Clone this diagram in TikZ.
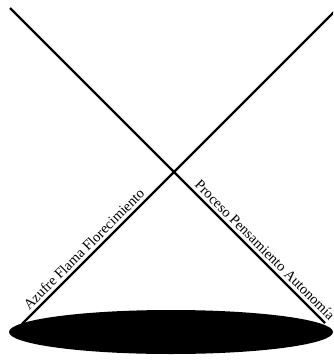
\documentclass[tikz,border=0pt]{standalone}
\usepackage{fontspec}
\setmainfont{Liberation Serif}
\begin{document}
\begin{tikzpicture}[x=1pt,y=-1pt,
  edge/.style={line width=2.2pt},
  lbl/.style={sloped,above,inner sep=4pt,font=\fontsize{14.4}{16}\selectfont}]
\useasboundingbox (0,0) rectangle (333,364);
\clip (0,0) rectangle (333,364);
\coordinate (tl) at (10,8);
\coordinate (tr) at (340,6);
\coordinate (x) at (174,172);
\coordinate (bl) at (22,324);
\coordinate (br) at (325,323);
\draw[edge] (tl) -- (x) -- (br);
\draw[edge] (tr) -- (x) -- (bl);
\fill (171,332) ellipse [x radius=162, y radius=22];
\path (bl) -- (x) node[lbl,pos=0.45] (a) {Azufre Flama Florecimiento};
\path (x) -- (br) node[lbl,pos=0.56] (b) {Proceso Pensamiento Autonomía};
\end{tikzpicture}
\end{document}
